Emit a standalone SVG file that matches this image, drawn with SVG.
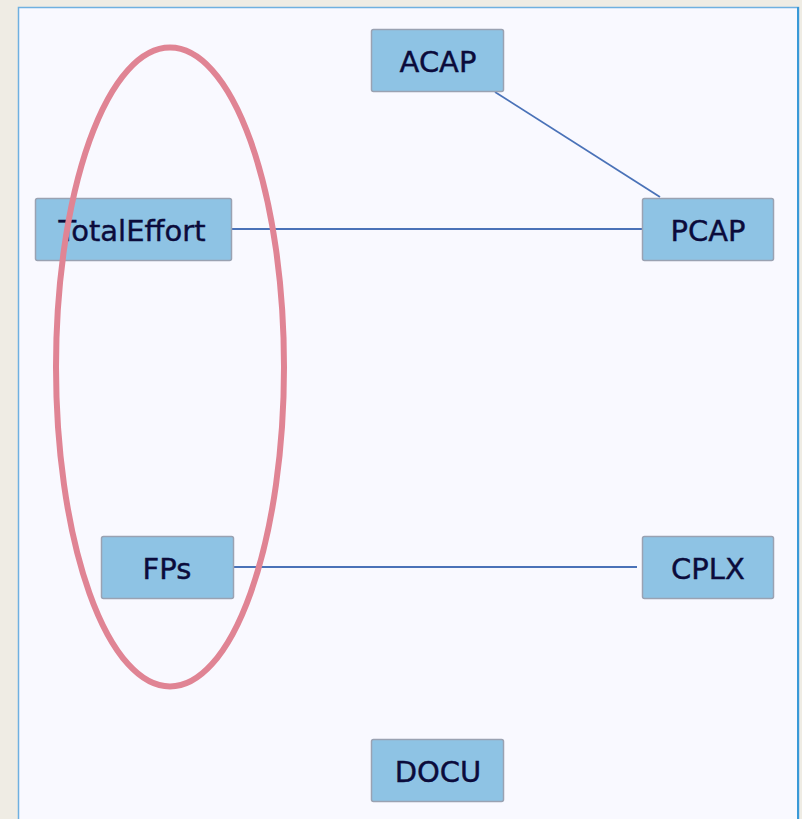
<svg xmlns="http://www.w3.org/2000/svg" width="802" height="819" viewBox="0 0 802 819">
<style>
.node rect{fill:#8ec3e4;stroke:#9aa2b2;stroke-width:1.5}
.node text{font-family:"DejaVu Sans",Verdana,sans-serif;font-size:29px;fill:#0b0b3b;stroke:#0b0b3b;stroke-width:0.4;text-anchor:middle}
.conn line{stroke:#4a72b8;stroke-width:1.8}
</style>
<rect x="0" y="0" width="802" height="819" fill="#efece4"/>
<rect x="18.5" y="7.5" width="780" height="820" fill="#f9f9ff" stroke="#6fb0e0" stroke-width="1.5"/>
<line x1="798" y1="7" x2="798" y2="819" stroke="#3a9ad8" stroke-width="2"/>
<g id="connectors" class="conn">
<line x1="495" y1="92" x2="660" y2="197"/>
<line x1="232" y1="229" x2="642" y2="229"/>
<line x1="234" y1="567" x2="637" y2="567"/>
</g>
<g id="ACAP" class="node"><rect x="371.5" y="29.5" width="132" height="62" rx="2"/><text x="438" y="72">ACAP</text></g>
<g id="TotalEffort" class="node"><rect x="35.5" y="198.5" width="196" height="62" rx="2"/><text x="132" y="241">TotalEffort</text></g>
<g id="PCAP" class="node"><rect x="642.5" y="198.5" width="131" height="62" rx="2"/><text x="708" y="241">PCAP</text></g>
<g id="FPs" class="node"><rect x="101.5" y="536.5" width="132" height="62" rx="2"/><text x="167" y="579">FPs</text></g>
<g id="CPLX" class="node"><rect x="642.5" y="536.5" width="131" height="62" rx="2"/><text x="708" y="579">CPLX</text></g>
<g id="DOCU" class="node"><rect x="371.5" y="739.5" width="132" height="62" rx="2"/><text x="438" y="782">DOCU</text></g>
<ellipse cx="170" cy="367" rx="114" ry="319.5" fill="none" stroke="#e08494" stroke-width="6"/>
</svg>
